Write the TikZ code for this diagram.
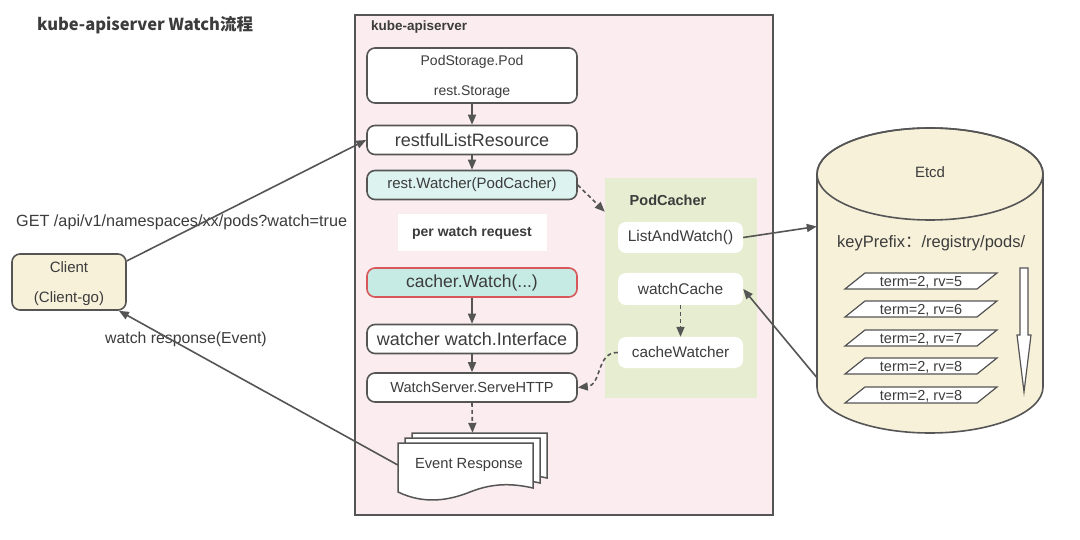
\documentclass[tikz,border=0pt]{standalone}
\usepackage{fontspec}
\setmainfont{Liberation Sans}
\newfontfamily\cjk{Noto Sans CJK SC}
\usetikzlibrary{arrows.meta}
\definecolor{ln}{HTML}{555555}
\definecolor{txt}{HTML}{3C3C3C}
\definecolor{pinkbg}{HTML}{FBEDEF}
\definecolor{greenbg}{HTML}{E7EDD0}
\definecolor{cyanl}{HTML}{DDF3EF}
\definecolor{cyanm}{HTML}{C6EBE4}
\definecolor{redb}{HTML}{D8575A}
\definecolor{cream}{HTML}{F7F1DA}
\newcommand\fsz[1]{\fontsize{#1}{#1}\selectfont}
\newcommand\docshape[2]{\filldraw[fill=white, draw=ln, line width=1.5pt, shift={(#1,#2)}] (398,443) -- (533,443) -- (533,488) .. controls (515,484) and (495,482) .. (470,492) .. controls (450,500) and (425,505) .. (398,492) -- cycle;}
\begin{document}
\begin{tikzpicture}[x=1pt,y=-1pt,
  every node/.style={text=txt, inner sep=0pt},
  apibox/.style={draw=ln, line width=1.6pt, rounded corners=8pt, fill=white, minimum width=210pt, minimum height=29pt},
  cbox/.style={fill=white, rounded corners=8pt, minimum width=125pt, minimum height=31pt},
  flow/.style={draw=ln, line width=1.6pt, -{Triangle[length=10pt,width=8pt]}},
  dflow/.style={draw=ln, line width=1.6pt, dash pattern=on 4pt off 3pt, -{Triangle[length=10pt,width=8pt]}},
  para/.style={draw=ln, line width=1.2pt, fill=white}
]
\useasboundingbox (0,0) rectangle (1080,540);
\fill[white] (0,0) rectangle (1080,540);

% title
\node[anchor=west, font={\cjk\bfseries\fsz{16.5}}] (title) at (37,25) {kube-apiserver Watch流程};

% apiserver frame
\node[draw=ln, line width=1.6pt, fill=pinkbg, minimum width=418pt, minimum height=500pt] (api) at (564,265) {};
\node[anchor=west, font={\bfseries\fsz{13.5}}] (apilbl) at (371,27) {kube-apiserver};

% PodCacher region
\node[fill=greenbg, minimum width=152pt, minimum height=220pt] (pc) at (681,288) {};
\node[font={\bfseries\fsz{14.5}}] (pclbl) at (668,200) {PodCacher};
\node[cbox, font=\fsz{15.5}] (law) at (680.5,237.5) {ListAndWatch()};
\node[cbox, minimum height=32pt, font=\fsz{15.5}] (wc) at (680.5,289) {watchCache};
\node[cbox, font=\fsz{15.3}] (cwr) at (680.5,352.5) {cacheWatcher};

% apiserver chain
\node[apibox, minimum height=55pt, align=center, font={\fontsize{14}{30}\selectfont}, text depth=0pt] (ps) at (472,75.5) {PodStorage.Pod\\rest.Storage};
\node[apibox, font=\fsz{18}] (rlr) at (472,140) {restfulListResource};
\node[apibox, fill=cyanl, font=\fsz{15}] (rw) at (472,185) {rest.Watcher(PodCacher)};
\node[fill=white, minimum width=149pt, minimum height=37pt, font={\bfseries\fsz{14}}] (pwr) at (472,233) {per watch request};
\node[apibox, fill=cyanm, draw=redb, font=\fsz{17.5}] (cw) at (472,282.5) {cacher.Watch(...)};
\node[apibox, font=\fsz{18}] (wi) at (472,339) {watcher watch.Interface};
\node[apibox, font=\fsz{14.6}] (ws) at (472,387.5) {WatchServer.ServeHTTP};

% Event Response document stack
\docshape{14}{-10}
\docshape{7}{-5}
\docshape{0}{0}
\node[minimum width=149pt, minimum height=64pt] (evs) at (472.5,465) {};
\node[font=\fsz{14.7}] (evt) at (469,465) {Event Response};

% Client
\node[draw=ln, line width=1.6pt, fill=cream, rounded corners=8pt, minimum width=114pt, minimum height=56pt, align=center, font={\fontsize{15}{30}\selectfont}, text depth=0pt] (cl) at (69,282) {Client\\(Client-go)};
\node[anchor=west, font=\fsz{16.2}] (getlbl) at (16,222) {GET /api/v1/namespaces/xx/pods?watch=true};
\node[anchor=west, font=\fsz{15.8}] (resplbl) at (105,339) {watch response(Event)};

% Etcd
\filldraw[fill=cream, draw=ln, line width=1.6pt] (817,174) -- (817,387) arc[start angle=180,end angle=360,x radius=113pt,y radius=46pt] -- (1043,174) arc[start angle=0,end angle=180,x radius=113pt,y radius=46pt] -- cycle;
\draw[ln, line width=1.6pt] (930,174) ellipse[x radius=113pt, y radius=46pt];
\node[minimum width=226pt, minimum height=305pt] (etcd) at (930,280.5) {};
\node[font=\fsz{15}] (etcdlbl) at (930,172) {Etcd};
\node[anchor=west, font=\fsz{16.5}] (kp) at (837,243) {keyPrefix{\cjk ：}/registry/pods/};
\foreach \yy/\t [count=\i] in {281/5, 309/6, 338/7, 366/8, 395/8} {
  \filldraw[para] (845,\yy+8) -- (865,\yy-8) -- (997,\yy-8) -- (977,\yy+8) -- cycle;
  \node[font=\fsz{14.5}] (term\i) at (921,\yy+1.5) {term=2, rv=\t};
}
\filldraw[fill=white, draw=ln, line width=1.2pt] (1020,268) -- (1028,268) -- (1028,335) -- (1031,335) -- (1024,392) -- (1017,335) -- (1020,335) -- cycle;

% connectors
\draw[flow] (ps.south) -- (rlr.north);
\draw[flow] (rlr.south) -- (rw.north);
\draw[flow] (cw.south) -- (wi.north);
\draw[flow] (wi.south) -- (ws.north);
\draw[dflow] (ws.south) -- (evs.north);
\draw[dflow] (rw.east) -- ([yshift=-34pt]pc.north west);
\draw[dflow] (wc.south) -- (cwr.north);
\draw[dflow] (cwr.west) .. controls (596,352) and (602,385) .. (ws.east);
\draw[flow] (law.east) -- ([yshift=54pt]etcd.west);
\draw[flow] ([yshift=-97pt]etcd.west) -- (wc.east);
\draw[flow] (cl.20) -- (rlr.west);
\draw[flow] (evs.west) -- (cl.-30);
\end{tikzpicture}
\end{document}
